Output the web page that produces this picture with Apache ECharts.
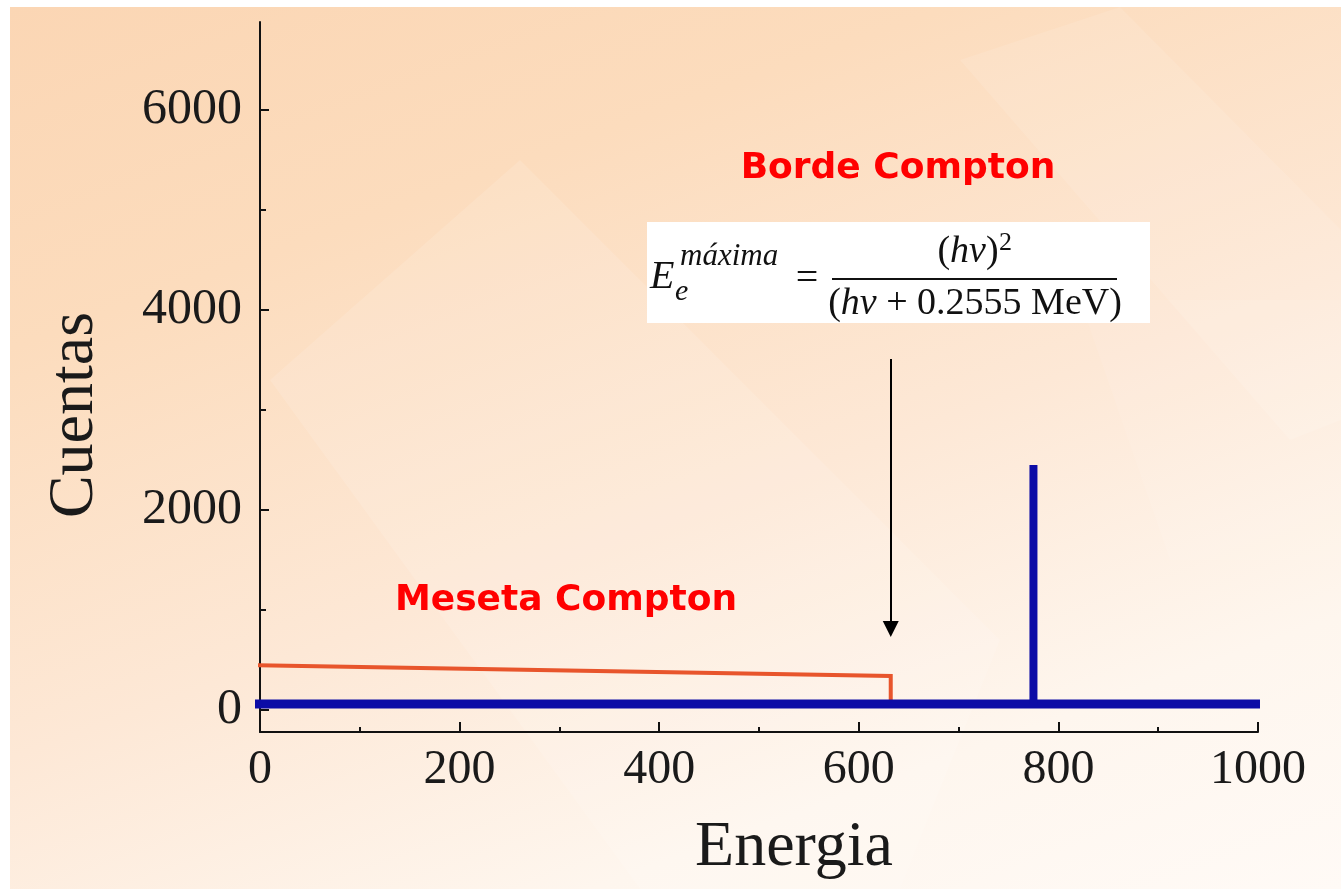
<!DOCTYPE html>
<html>
<head>
<meta charset="utf-8">
<script src="https://cdn.jsdelivr.net/npm/echarts@6/dist/echarts.min.js"></script>
<style>
  html, body { margin: 0; padding: 0; background: #ffffff; }
  .slide-bg {
    position: absolute; left: 10px; top: 7px; width: 1331px; height: 882px;
    background: linear-gradient(160deg, #fbd6b4 0%, #fcdcbd 25%, #fde8d6 55%, #fef6ee 80%, #fffaf6 100%);
  }
  #chart { position: absolute; left: 0; top: 0; width: 1341px; height: 889px; }
</style>
</head>
<body>
<div class="slide-bg"></div>
<div id="chart"></div>
<script>
// ejes
const energyTicks = [0, 200, 400, 600, 800, 1000];
const energyMinorTicks = [100, 300, 500, 700, 900];
const countTicks = [0, 2000, 4000, 6000];
const countMinorTicks = [1000, 3000, 5000];

// espectro
const baselineEnergy = [-12, 1002];
const baselineCounts = [60, 60];
const peakEnergy = [775, 775];
const peakCounts = [60, 2450];
const plateauEnergy = [-12, 632, 632];
const plateauCounts = [450, 340, 60];

// flecha del borde Compton
const arrowEnergy = [632, 632];
const arrowCounts = [3510, 810];

const zip = (xs, ys) => xs.map((x, i) => [x, ys[i]]);

const serif = '"Liberation Serif", "DejaVu Serif", serif';
const comic = '"Comic Sans MS", "DejaVu Sans", sans-serif';
const mathFont = '"Liberation Serif", "DejaVu Serif", serif';

const chart = echarts.init(document.getElementById('chart'));

const plain = (v) => String(v);

const option = {
  backgroundColor: 'transparent',
  animation: false,
  grid: { left: 260, right: 83, top: 22, bottom: 157 },
  xAxis: [
    {
      type: 'value', min: 0, max: 1000, position: 'bottom',
      axisLine: { onZero: false, lineStyle: { color: '#111', width: 2 } },
      axisTick: { inside: true, length: 10, customValues: energyTicks, lineStyle: { color: '#111', width: 2 } },
      axisLabel: { customValues: energyTicks, formatter: plain, fontFamily: serif, fontSize: 48, color: '#1a1a1a', margin: 14 },
      splitLine: { show: false }
    },
    {
      type: 'value', min: 0, max: 1000, position: 'bottom',
      axisLine: { show: false, onZero: false },
      axisTick: { inside: true, length: 5, customValues: energyMinorTicks, lineStyle: { color: '#111', width: 2 } },
      axisLabel: { show: false },
      splitLine: { show: false }
    }
  ],
  yAxis: [
    {
      type: 'value', min: -220, max: 6880, position: 'left',
      axisLine: { show: true, lineStyle: { color: '#111', width: 2 } },
      axisTick: { show: true, inside: true, length: 9, customValues: countTicks, lineStyle: { color: '#111', width: 2 } },
      axisLabel: { customValues: countTicks, formatter: plain, fontFamily: serif, fontSize: 50, color: '#1a1a1a', margin: 18, padding: [0, 0, 10, 0] },
      splitLine: { show: false }
    },
    {
      type: 'value', min: -220, max: 6880, position: 'left',
      axisLine: { show: false },
      axisTick: { show: true, inside: true, length: 6, customValues: countMinorTicks, lineStyle: { color: '#111', width: 2 } },
      axisLabel: { show: false },
      splitLine: { show: false }
    }
  ],
  series: [
    {
      name: 'fondo', type: 'line', clip: false, symbol: 'none', silent: true,
      data: zip(baselineEnergy, baselineCounts),
      lineStyle: { color: '#0c0ca6', width: 9, cap: 'butt' }, z: 3
    },
    {
      name: 'pico', type: 'line', clip: false, symbol: 'none', silent: true,
      data: zip(peakEnergy, peakCounts),
      lineStyle: { color: '#0c0ca6', width: 8, cap: 'butt' }, z: 3
    },
    {
      name: 'meseta', type: 'line', clip: false, symbol: 'none', silent: true,
      data: zip(plateauEnergy, plateauCounts),
      lineStyle: { color: '#e8552c', width: 4, cap: 'butt', join: 'miter' }, z: 2
    },
    {
      name: 'flecha', type: 'line', clip: false, symbol: 'none', silent: true,
      data: [],
      markLine: {
        silent: true,
        symbol: ['none', 'triangle'],
        symbolSize: [16, 16],
        label: { show: false },
        lineStyle: { color: '#000', width: 2, type: 'solid' },
        data: [[{ coord: zip(arrowEnergy, arrowCounts)[0] }, { coord: zip(arrowEnergy, arrowCounts)[1] }]]
      }
    }
  ],
  graphic: [
    // franjas claras del fondo
    { type: 'polygon', z: -1, silent: true, shape: { points: [[270, 380], [520, 160], [1000, 640], [900, 889], [640, 889]] }, style: { fill: 'rgba(255,255,255,0.12)' } },
    { type: 'polygon', z: -1, silent: true, shape: { points: [[960, 60], [1120, 7], [1341, 230], [1341, 420], [1290, 440]] }, style: { fill: 'rgba(255,255,255,0.1)' } },
    { type: 'polygon', z: -1, silent: true, shape: { points: [[1080, 300], [1341, 300], [1341, 560], [1170, 560]] }, style: { fill: 'rgba(255,255,255,0.08)' } },
    // textos de ejes
    { type: 'text', x: 75, y: 415, rotation: Math.PI / 2, silent: true,
      style: { text: 'Cuentas', font: '64px ' + serif, fill: '#1a1a1a', align: 'center', verticalAlign: 'middle' } },
    { type: 'text', x: 794, y: 848, silent: true,
      style: { text: 'Energia', font: '64px ' + serif, fill: '#1a1a1a', align: 'center', verticalAlign: 'middle' } },
    // anotaciones
    { type: 'text', x: 898, y: 169, silent: true,
      style: { text: 'Borde Compton', font: 'bold 36px ' + comic, fill: '#ff0000', align: 'center', verticalAlign: 'middle' } },
    { type: 'text', x: 566, y: 601, silent: true,
      style: { text: 'Meseta Compton', font: 'bold 36px ' + comic, fill: '#ff0000', align: 'center', verticalAlign: 'middle' } },
    // formula
    { type: 'rect', silent: true, shape: { x: 647, y: 222, width: 503, height: 101 }, style: { fill: '#ffffff' } },
    { type: 'text', x: 650, y: 277, silent: true,
      style: { text: 'E', font: 'italic 40px ' + mathFont, fill: '#111', align: 'left', verticalAlign: 'middle' } },
    { type: 'text', x: 680, y: 257, silent: true,
      style: { text: 'máxima', font: 'italic 31px ' + mathFont, fill: '#111', align: 'left', verticalAlign: 'middle' } },
    { type: 'text', x: 675, y: 292, silent: true,
      style: { text: 'e', font: 'italic 30px ' + mathFont, fill: '#111', align: 'left', verticalAlign: 'middle' } },
    { type: 'text', x: 807, y: 279, silent: true,
      style: { text: '=', font: '40px ' + mathFont, fill: '#111', align: 'center', verticalAlign: 'middle' } },
    { type: 'text', x: 968, y: 252, silent: true,
      style: {
        text: '{u|(}{i|hν}{u|)}', align: 'center', verticalAlign: 'middle',
        rich: {
          u: { font: '38px ' + mathFont, fill: '#111' },
          i: { font: 'italic 38px ' + mathFont, fill: '#111' }
        }
      } },
    { type: 'text', x: 999, y: 243, silent: true,
      style: { text: '2', font: '26px ' + mathFont, fill: '#111', align: 'left', verticalAlign: 'middle' } },
    { type: 'line', silent: true, shape: { x1: 832, y1: 279, x2: 1117, y2: 279 }, style: { stroke: '#111', lineWidth: 2 } },
    { type: 'text', x: 975, y: 304, silent: true,
      style: {
        text: '{u|(}{i|hν}{u| + 0.2555 MeV)}', align: 'center', verticalAlign: 'middle',
        rich: {
          u: { font: '38px ' + mathFont, fill: '#111' },
          i: { font: 'italic 38px ' + mathFont, fill: '#111' }
        }
      } }
  ]
};

chart.setOption(option);
</script>
</body>
</html>
